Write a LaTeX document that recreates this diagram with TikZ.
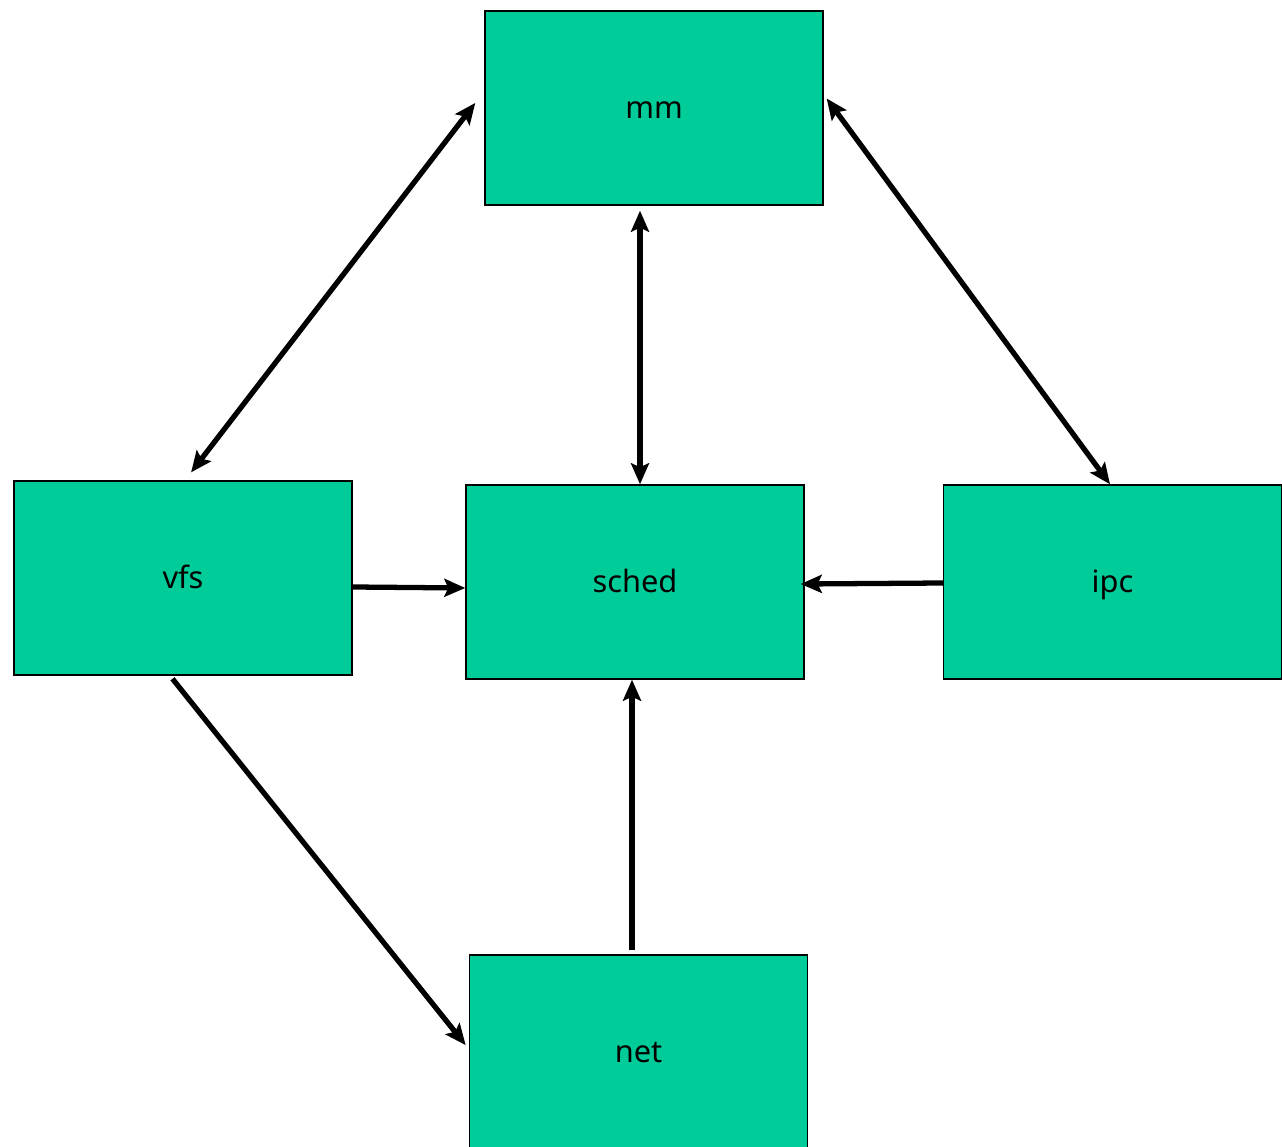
\documentclass[tikz,border=0pt]{standalone}
\usepackage{fontspec}
\setmainfont{Noto Sans}
\usetikzlibrary{calc, arrows.meta}
\definecolor{subsys}{HTML}{00CC99}

\tikzset{
  subbox/.style={draw=black, line width=0.8pt, fill=subsys, minimum width=6.76cm, minimum height=3.88cm, inner sep=0pt, text height=12pt, text depth=0pt, font=\fontsize{17.5}{21}\selectfont},
  link/.style={line width=3pt, >={Stealth[length=0.42cm, width=0.36cm, inset=0.08cm]}},
}

\begin{document}
\begin{tikzpicture}
\useasboundingbox (0, 0) rectangle (25.64, 22.92);

\node[subbox] (mm) at (13.08, 20.76) {mm};
\node[subbox] (vfs) at (3.66, 11.36) {vfs};
\node[subbox] (sched) at (12.70, 11.28) {sched};
\node[subbox] (ipc) at (22.25, 11.28) {ipc};
\node[subbox] (net) at (12.77, 1.88) {net};

\draw[link, <->, shorten <=0.2cm, shorten >=0.1cm] ([xshift=0.04cm]vfs.north) -- ([xshift=-0.12cm, yshift=0.18cm]mm.west);
\draw[link, <->, shorten <=0.1cm] ([xshift=0.1cm]mm.south -| sched.north) -- ([xshift=0.1cm]sched.north);
\draw[link, <->, shorten <=0.1cm] ([yshift=0.27cm]mm.east) -- ([xshift=-0.05cm]ipc.north);

\draw[link, ->] ([yshift=-0.18cm]vfs.east) -- ([yshift=-0.12cm]sched.west);
\draw[link, ->, shorten >=-0.08cm] ([yshift=-0.02cm]ipc.west) -- ([yshift=-0.04cm]sched.east);
\draw[link, ->, shorten <=0.08cm] ([xshift=-0.13cm]net.north) -- ([xshift=-0.13cm]net.north |- sched.south);
\draw[link, ->, shorten <=0.08cm, shorten >=0.1cm] ([xshift=-0.26cm]vfs.south) -- ([yshift=0.06cm]net.west);
\end{tikzpicture}
\end{document}
